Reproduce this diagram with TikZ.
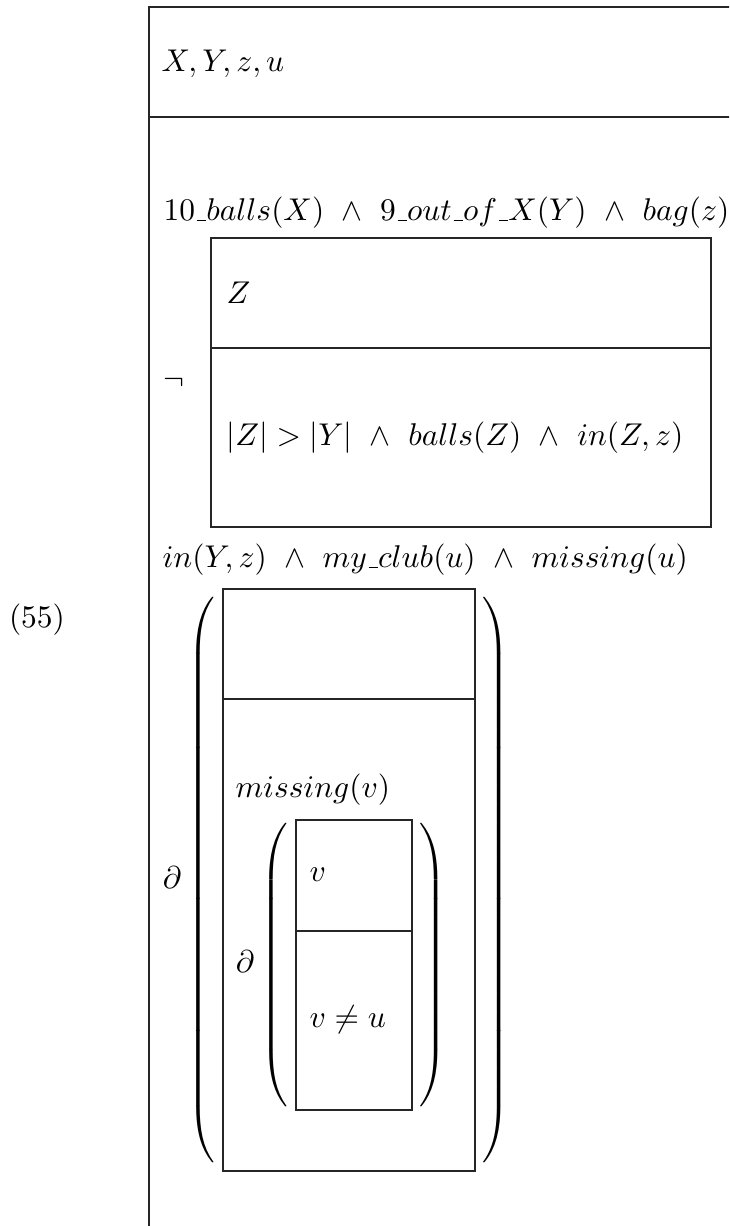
\documentclass[tikz,border=0pt]{standalone}
\usepackage{tikz}
\usetikzlibrary{positioning}
\newcommand{\lbig}[1]{$\nulldelimiterspace=0pt\left(\vcenter to #1{\vfil}\right.$}
\newcommand{\rbig}[1]{$\nulldelimiterspace=0pt\left.\vcenter to #1{\vfil}\right)$}
\newcommand{\uscore}{\mbox{\kern.06em\vbox{\hrule width.3em}}}
\newcommand{\et}{\ \wedge\ }
\tikzset{
  drsbox/.style={draw=black!85,line width=0.45pt},
  cond/.style={anchor=west,inner sep=0pt},
  drsop/.style={inner sep=0pt},
}
\begin{document}
\begin{tikzpicture}[x=0.318pt,y=-0.318pt]
  \useasboundingbox (0,0) rectangle (729,1226);
  \clip (0,0) rectangle (729,1226);
  \node[drsop] (num) at (37,620) {$(55)$};
  % main box
  \draw[drsbox] (149,7) rectangle (780,1280);
  \draw[drsbox] (149,117) -- (780,117);
  \node[cond] (univ) at (161,64) {$X,Y,z,u$};
  \node[cond] (c1) at (163,213)
    {$10\uscore balls(X)\et 9\uscore out\uscore of\uscore X(Y)\et bag(z)$};
  % negated box
  \node[drsop] (neg) at (174,383) {$\neg$};
  \draw[drsbox] (211,238) rectangle (711,527);
  \draw[drsbox] (211,348) -- (711,348);
  \node[cond] (negu) at (226,293) {$Z$};
  \node[cond] (negc) at (226,438)
    {$|Z|>|Y|\et balls(Z)\et in(Z,z)$};
  \node[cond] (c3) at (162,560)
    {$in(Y,z)\et my\uscore club(u)\et missing(u)$};
  % partial box
  \node[drsop] (part) at (172,878) {$\partial$};
  \node[drsop] (lp) at (201,880) {\lbig{182pt}};
  \node[drsop] (rp) at (496,880) {\rbig{182pt}};
  \draw[drsbox] (223,589) rectangle (475,1171);
  \draw[drsbox] (223,699) -- (475,699);
  \node[cond] (miss) at (235,790) {$missing(v)$};
  % inner partial box
  \node[drsop] (part2) at (245,962) {$\partial$};
  \node[drsop] (lp2) at (274.5,965) {\lbig{90pt}};
  \node[drsop] (rp2) at (433.5,965) {\rbig{90pt}};
  \draw[drsbox] (296,820) rectangle (412,1110);
  \draw[drsbox] (296,931) -- (412,931);
  \node[cond] (vu) at (309,875) {$v$};
  \node[cond] (vc) at (309,1020) {$v\neq u$};
\end{tikzpicture}
\end{document}
